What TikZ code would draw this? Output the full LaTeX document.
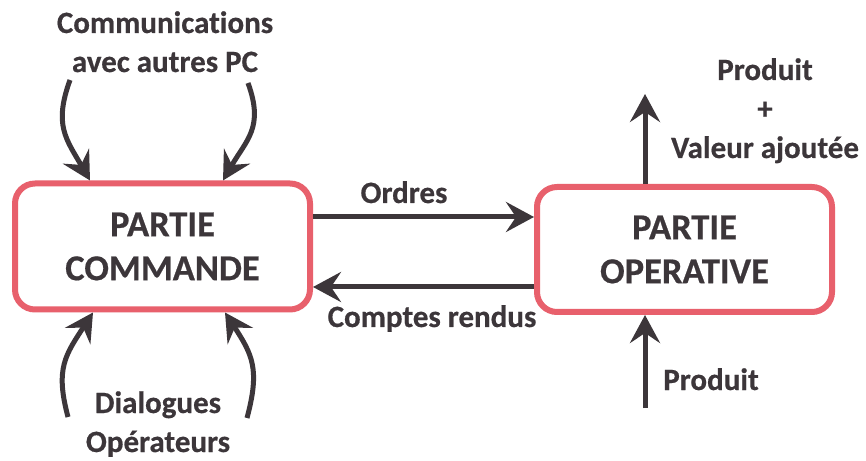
\documentclass[tikz,border=0pt]{standalone}
\usepackage{fontspec}
\setmainfont{Carlito}[Ligatures=NoCommon, BoldFeatures={FakeBold=0.5}]
\usetikzlibrary{arrows.meta}
\definecolor{ink}{RGB}{60,54,58}
\definecolor{frame}{RGB}{232,96,108}
\begin{document}
\begin{tikzpicture}[x=1pt,y=1pt,
  block/.style={draw=frame, line width=6pt, rounded corners=20pt,
    minimum width=295pt, minimum height=126pt, inner sep=0pt,
    text=ink, font=\bfseries\fontsize{36.5}{44}\selectfont, align=center},
  lbl/.style={text=ink, font=\bfseries\fontsize{31}{39}\selectfont,
    align=center, inner sep=0pt, anchor=base},
  arr/.style={draw=ink, line width=5pt,
    -{Stealth[length=28pt,width=30pt,inset=10pt]}}
]
\useasboundingbox[fill=white] (0,0) rectangle (866,460);

% the two parts of the automated system
\node[block] (pc) at (162.5,213.5) {PARTIE\\COMMANDE};
\node[block, minimum height=125pt] (po) at (684.5,210.5) {PARTIE\\OPERATIVE};

% reference points for the connectors
\coordinate (ordy) at (0,243);
\coordinate (cry) at (0,173);
\coordinate (upx) at (645,366);
\coordinate (inx) at (645,52);
\coordinate (c1) at (70,380);
\coordinate (c2) at (248,377);
\coordinate (d1) at (68,43);
\coordinate (d2) at (247,42);
\coordinate (x1) at (90,0);
\coordinate (x2) at (223,0);
\coordinate (x3) at (93,0);
\coordinate (x4) at (225,0);

% exchanges between the parts
\draw[arr] (pc.east |- ordy) -- (po.west |- ordy);
\draw[arr] (po.west |- cry) -- (pc.east |- cry);
\draw[arr] (po.north -| upx) -- (upx);
\draw[arr] (inx) -- (po.south -| inx);

% curved inputs of the control part
\draw[arr] (c1) to[out=-110,in=120,looseness=1.2] (pc.north -| x1);
\draw[arr] (c2) to[out=-70,in=60,looseness=1.2] (pc.north -| x2);
\draw[arr] (d1) to[out=105,in=-123,looseness=1.2] (pc.south -| x3);
\draw[arr] (d2) to[out=75,in=-57,looseness=1.2] (pc.south -| x4);

% labels (a multi-line node sits on the baseline of its last line)
\node[lbl] (comm) at (165,388) {Communications\\avec autres PC};
\node[lbl] (ordres) at (404,257) {Ordres};
\node[lbl] (cr) at (432,133) {Comptes rendus};
\node[lbl] (pva) at (765,302) {Produit\\+\\Valeur ajoutée};
\node[lbl] (prod) at (711,70) {Produit};
\node[lbl] (dial) at (158,8) {Dialogues\\Opérateurs};
\end{tikzpicture}
\end{document}
